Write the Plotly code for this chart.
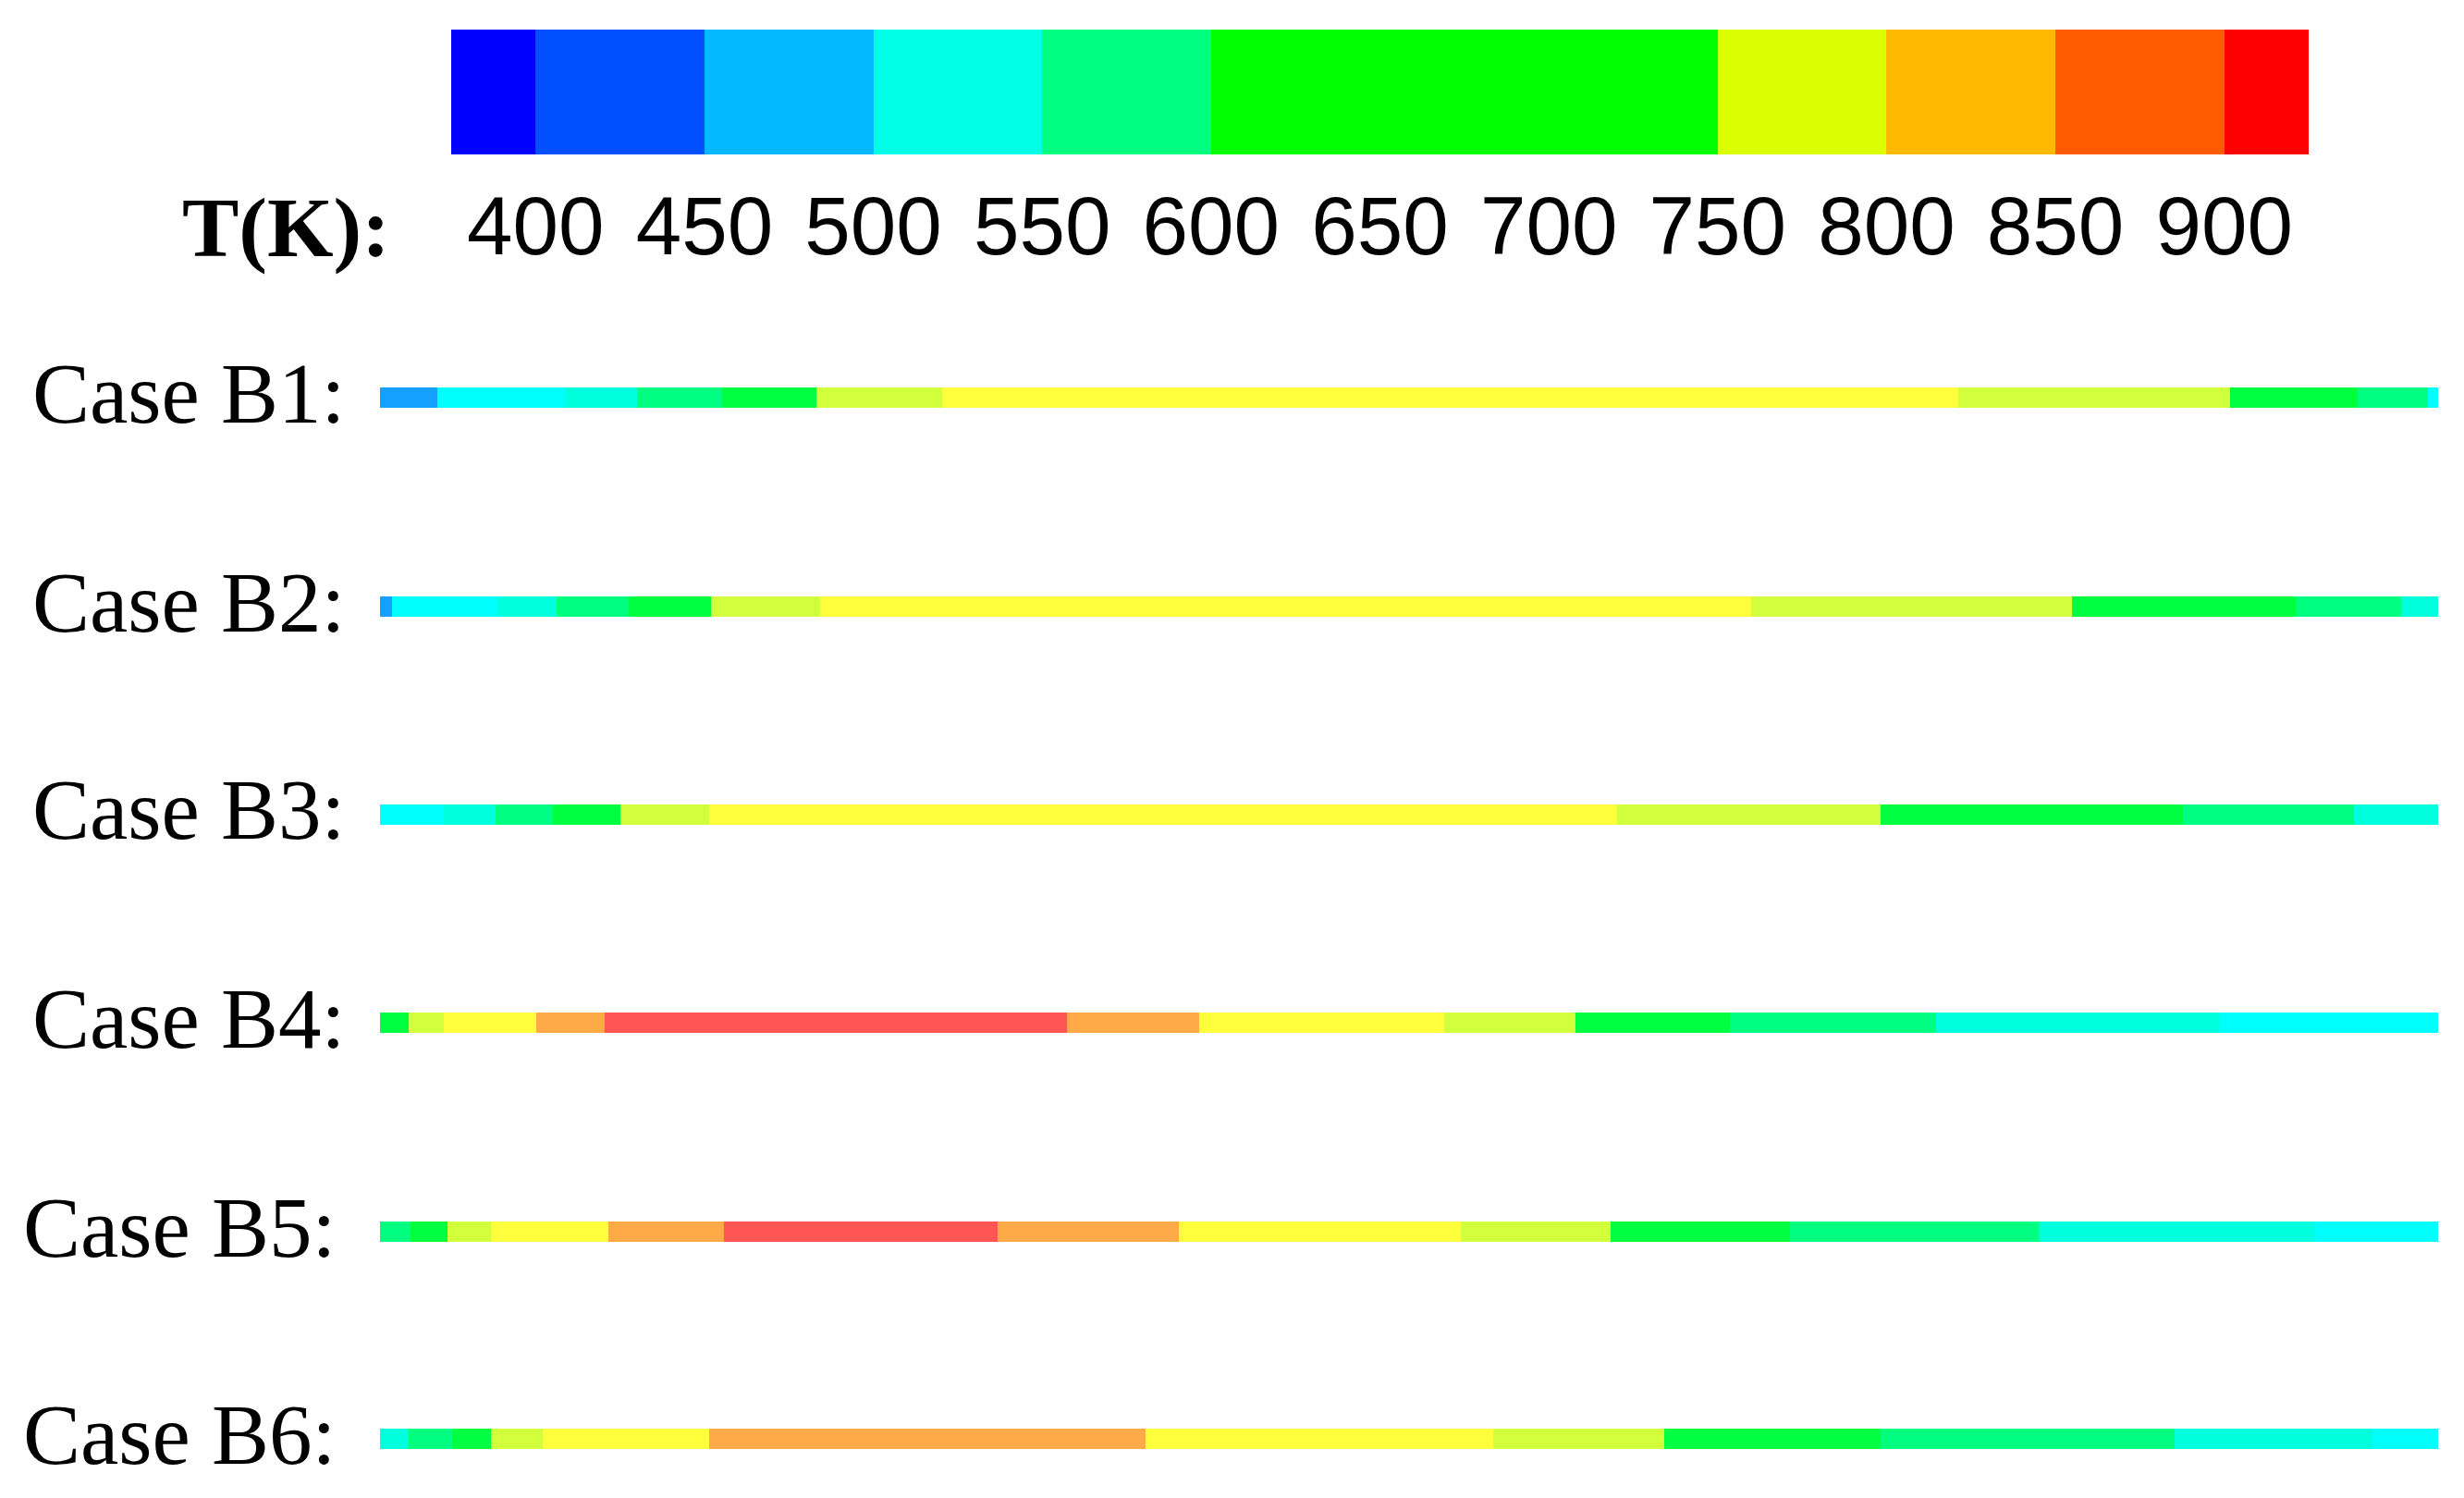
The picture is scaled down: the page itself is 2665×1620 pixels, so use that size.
import plotly.graph_objects as go

# ---- data ----
# temperature scale (colour legend), K
legend_ticks = [400, 450, 500, 550, 600, 650, 700, 750, 800, 850, 900]
legend_edges = [375, 400, 450, 500, 550, 600, 650, 700, 750, 800, 850, 900, 925]
legend_colors = ['rgb(0,0,255)', 'rgb(0,80,255)', 'rgb(0,185,255)', 'rgb(0,255,230)',
                 'rgb(0,255,128)', 'rgb(0,255,0)', 'rgb(0,255,0)', 'rgb(0,255,0)',
                 'rgb(220,255,0)', 'rgb(255,185,0)', 'rgb(255,90,0)', 'rgb(255,0,0)']

case_names = ['Case B1:', 'Case B2:', 'Case B3:', 'Case B4:', 'Case B5:', 'Case B6:']

# segment edges along the tube (fraction of length) and segment temperatures (K)
b1_edges = [0, 0.028, 0.090, 0.125, 0.166, 0.212, 0.273, 0.767, 0.899, 0.961, 0.995, 1]
b1_temps = [475, 515, 540, 575, 625, 700, 775, 700, 625, 575, 515]

b2_edges = [0, 0.006, 0.057, 0.086, 0.121, 0.161, 0.214, 0.666, 0.822, 0.931, 0.982, 1]
b2_temps = [475, 515, 540, 575, 625, 700, 775, 700, 625, 575, 540]

b3_edges = [0, 0.031, 0.056, 0.084, 0.117, 0.160, 0.601, 0.729, 0.876, 0.959, 1]
b3_temps = [515, 540, 575, 625, 700, 775, 700, 625, 575, 540]

b4_edges = [0, 0.014, 0.031, 0.076, 0.109, 0.334, 0.398, 0.517, 0.581, 0.656, 0.756, 0.894, 1]
b4_temps = [625, 700, 775, 825, 875, 825, 775, 700, 625, 575, 540, 515]

b5_edges = [0, 0.015, 0.033, 0.054, 0.111, 0.167, 0.300, 0.388, 0.525, 0.598, 0.685, 0.806, 0.940, 1]
b5_temps = [575, 625, 700, 775, 825, 875, 825, 775, 700, 625, 575, 540, 515]

b6_edges = [0, 0.014, 0.035, 0.054, 0.079, 0.160, 0.372, 0.541, 0.624, 0.729, 0.872, 0.968, 1]
b6_temps = [540, 575, 625, 700, 775, 825, 775, 700, 625, 575, 540, 515]

# colours used in the tube contours, per temperature level
bar_levels = [475, 515, 540, 575, 625, 700, 775, 825, 875]
bar_colors = ['rgb(20,160,255)', 'rgb(0,255,255)', 'rgb(0,255,220)', 'rgb(0,255,128)',
              'rgb(0,255,64)', 'rgb(210,255,60)', 'rgb(255,255,60)', 'rgb(255,170,70)',
              'rgb(255,85,85)']

all_edges = [b1_edges, b2_edges, b3_edges, b4_edges, b5_edges, b6_edges]
all_temps = [b1_temps, b2_temps, b3_temps, b4_temps, b5_temps, b6_temps]

W, H = 2665, 1620
OFF = 8  # page body margin
bar_centers = [430, 656, 881, 1106, 1332, 1556]  # px from top
bar_half = 11
label_left = [37, 37, 37, 37, 27, 27]


def px(p):
    return (p - OFF) / W


def py(p):
    return 1 - (p - OFF) / H


def stepped_scale(bounds, colors):
    # discrete colourscale: colors[i] between bounds[i] and bounds[i+1]
    lo, hi = bounds[0], bounds[-1]
    scale = []
    for i, c in enumerate(colors):
        scale.append([(bounds[i] - lo) / (hi - lo), c])
        scale.append([(bounds[i + 1] - lo) / (hi - lo), c])
    return scale


bar_bounds = [455]
for a, b in zip(bar_levels[:-1], bar_levels[1:]):
    bar_bounds.append((a + b) / 2)
bar_bounds.append(895)
bar_scale = stepped_scale(bar_bounds, bar_colors)
legend_scale = stepped_scale(legend_edges, legend_colors)

fig = go.Figure()

# colour legend bar
legend_mids = [(a + b) / 2 for a, b in zip(legend_edges[:-1], legend_edges[1:])]
fig.add_trace(go.Heatmap(x=legend_edges, y=[0, 1], z=[legend_mids], colorscale=legend_scale,
                         zmin=legend_edges[0], zmax=legend_edges[-1], showscale=False,
                         xaxis='x2', yaxis='y7', hoverinfo='skip'))

# tube contours
for k in range(6):
    fig.add_trace(go.Heatmap(x=all_edges[k], y=[0, 1], z=[all_temps[k]], colorscale=bar_scale,
                             zmin=bar_bounds[0], zmax=bar_bounds[-1], showscale=False,
                             xaxis='x', yaxis='y' if k == 0 else 'y%d' % (k + 1),
                             name=case_names[k], hoverinfo='x+z'))

layout = dict(
    width=W, height=H,
    margin=dict(l=0, r=0, t=0, b=0),
    paper_bgcolor='white', plot_bgcolor='white',
    showlegend=False,
    xaxis=dict(domain=[px(411), px(2637)], range=[0, 1], visible=False, anchor='y'),
    xaxis2=dict(domain=[px(488), px(2497)], range=[legend_edges[0], legend_edges[-1]],
                anchor='y7', showgrid=False, zeroline=False, showline=False, ticks='',
                tickvals=legend_ticks, ticktext=[str(t) for t in legend_ticks],
                tickfont=dict(family='Liberation Sans, Arial', size=89, color='black'),
                ticklabelstandoff=18),
    yaxis7=dict(domain=[py(167), py(32)], range=[0, 1], visible=False, anchor='x2'),
)
for k, c in enumerate(bar_centers):
    key = 'yaxis' if k == 0 else 'yaxis%d' % (k + 1)
    layout[key] = dict(domain=[py(c + bar_half), py(c - bar_half)],
                       range=[0, 1], visible=False, anchor='x')
fig.update_layout(**layout)

fig.add_annotation(text='<b>T(K):</b>', x=px(309), y=py(246), xref='paper', yref='paper',
                   xanchor='center', yanchor='middle', showarrow=False,
                   font=dict(family='Liberation Serif, Times New Roman', size=92, color='black'))
for k, name in enumerate(case_names):
    fig.add_annotation(text=name, x=px(label_left[k] - 4), y=py(bar_centers[k] - 5),
                       xref='paper', yref='paper', xanchor='left', yanchor='middle',
                       showarrow=False,
                       font=dict(family='Liberation Serif, Times New Roman', size=93, color='black'))

fig.write_html('out.html')
